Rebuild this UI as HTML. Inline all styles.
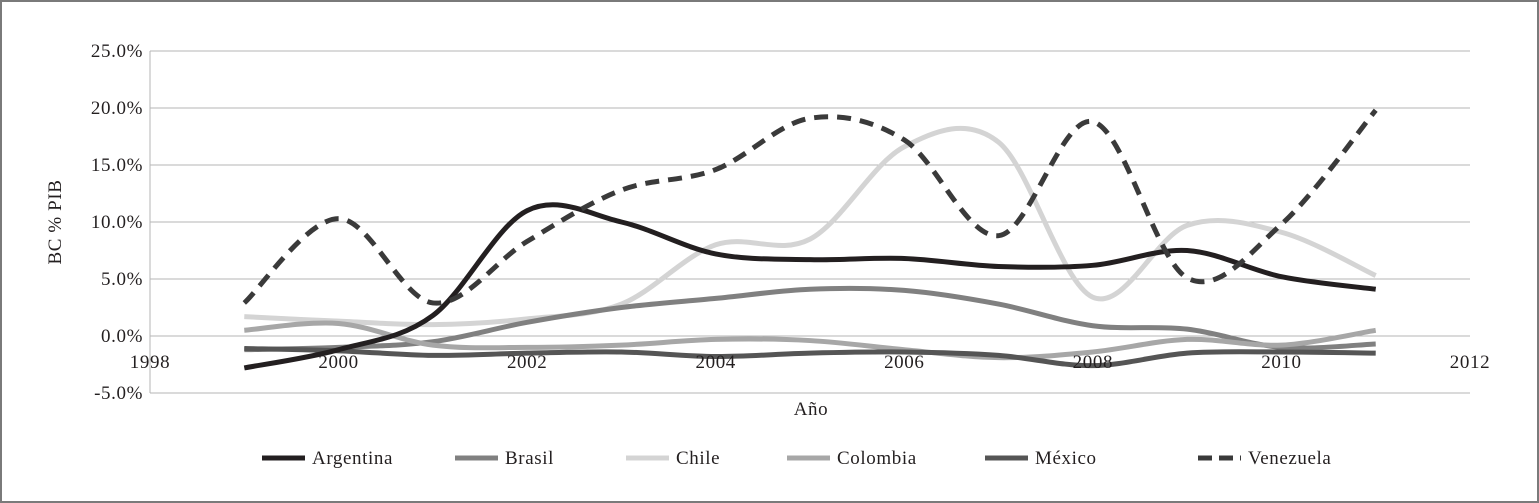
<!DOCTYPE html>
<html><head><meta charset="utf-8">
<style>
html,body{margin:0;padding:0;background:#fff;}
svg{display:block;}
text{font-family:"Liberation Serif",serif;fill:#231f20;letter-spacing:0.6px;}
</style></head>
<body>
<svg id="chart" width="1539" height="503" xmlns="http://www.w3.org/2000/svg">
<rect x="1" y="1" width="1537" height="501" fill="#fff" stroke="#7a7a7a" stroke-width="2"/>
<g id="grid"></g>
<g id="series"></g>
<g id="labels"></g>
<g id="legend"></g>
</svg>
<script>
const years=[1999,2000,2001,2002,2003,2004,2005,2006,2007,2008,2009,2010,2011];
const argentina=[-2.8,-1.2,1.8,11.0,10.0,7.2,6.7,6.8,6.1,6.2,7.5,5.2,4.1];
const brasil=[-1.2,-1.0,-0.5,1.2,2.5,3.3,4.1,4.0,2.8,0.9,0.6,-1.0,-0.7];
const chile=[1.7,1.3,1.0,1.5,2.8,8.0,8.5,16.6,17.0,3.4,9.7,9.1,5.3];
const colombia=[0.5,1.1,-0.8,-1.0,-0.8,-0.3,-0.4,-1.2,-1.9,-1.4,-0.3,-0.8,0.5];
const mexico=[-1.1,-1.3,-1.7,-1.5,-1.4,-1.8,-1.5,-1.4,-1.7,-2.6,-1.5,-1.4,-1.5];
const venezuela=[2.9,10.3,2.9,8.3,12.8,14.6,19.1,17.2,8.8,18.8,5.1,9.8,19.8];
const yTicks=[25,20,15,10,5,0,-5];
const xTicks=[1998,2000,2002,2004,2006,2008,2010,2012];
const seriesNames=["Argentina","Brasil","Chile","Colombia","México","Venezuela"];

const NS="http://www.w3.org/2000/svg";
const X0=150,X1=1470,Y25=51,Y0=336;
function xs(v){return X0+(v-1998)/(2012-1998)*(X1-X0);}
function ys(v){return Y0-(v)*(Y0-Y25)/25;}
function mk(tag,attrs,parent){const e=document.createElementNS(NS,tag);for(const k in attrs)e.setAttribute(k,attrs[k]);parent.appendChild(e);return e;}
const grid=document.getElementById('grid'),labels=document.getElementById('labels'),sg=document.getElementById('series'),lg=document.getElementById('legend');

yTicks.forEach(t=>{
  const l=mk('line',{x1:X0,x2:X1,y1:ys(t),y2:ys(t),stroke:'#b5b5b5','stroke-width':1},grid);
  
  
  const tx=mk('text',{x:143,y:ys(t)+6,'text-anchor':'end','font-size':19},labels);
  tx.textContent=t.toFixed(1)+'%';
  
  
});
const ax=mk('line',{x1:X0,x2:X0,y1:Y25,y2:ys(-5),stroke:'#b5b5b5','stroke-width':1},grid);


xTicks.forEach(t=>{
  const tx=mk('text',{x:xs(t),y:368,'text-anchor':'middle','font-size':19},labels);
  tx.textContent=t;
  
  
});
const yt=mk('text',{x:0,y:0,'text-anchor':'middle','font-size':19,transform:'translate(61,222) rotate(-90)'},labels);
yt.textContent='BC % PIB';


const xt=mk('text',{x:811,y:415,'text-anchor':'middle','font-size':19},labels);
xt.textContent='Año';



function smooth(vals){
  const p=vals.map((v,i)=>[xs(years[i]),ys(v)]);
  let d='M'+p[0][0]+','+p[0][1];
  for(let i=0;i<p.length-1;i++){
    const a=p[i-1]||p[i],b=p[i],c=p[i+1],e=p[i+2]||c;
    const c1=[b[0]+(c[0]-a[0])/6,b[1]+(c[1]-a[1])/6];
    const c2=[c[0]-(e[0]-b[0])/6,c[1]-(e[1]-b[1])/6];
    d+=' C'+c1[0]+','+c1[1]+' '+c2[0]+','+c2[1]+' '+c[0]+','+c[1];
  }
  return d;
}
const styles=[
  {v:argentina,c:'#231f20',dash:null},
  {v:brasil,c:'#808080',dash:null},
  {v:chile,c:'#d4d4d4',dash:null},
  {v:colombia,c:'#a7a7a7',dash:null},
  {v:mexico,c:'#555555',dash:null},
  {v:venezuela,c:'#3a3a3a',dash:'14,9'}
];
const order=[2,1,3,4,0,5];
order.forEach(i=>{
  const s=styles[i];
  const p=mk('path',{d:smooth(s.v),fill:'none',stroke:s.c,'stroke-width':5,'stroke-linecap':'butt','stroke-linejoin':'round'},sg);
  if(s.dash)p.setAttribute('stroke-dasharray',s.dash);
  
  
});
const legX=[262,455,626,787,985,1198];
seriesNames.forEach((n,i)=>{
  const s=styles[i];
  const l=mk('line',{x1:legX[i],x2:legX[i]+43,y1:458,y2:458,stroke:s.c,'stroke-width':5},lg);
  if(s.dash)l.setAttribute('stroke-dasharray','14,7');
  
  
  const t=mk('text',{x:legX[i]+50,y:464,'font-size':19},lg);
  t.textContent=n;
  
  
});
</script>
</body></html>
